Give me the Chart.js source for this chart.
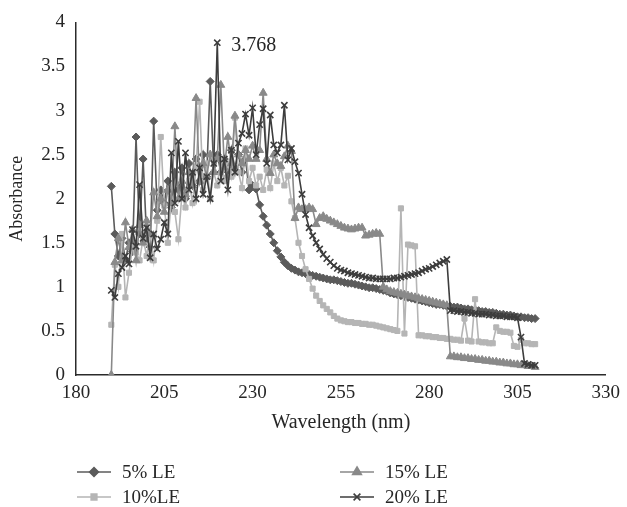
<!DOCTYPE html>
<html>
<head>
<meta charset="utf-8">
<script src="https://cdn.jsdelivr.net/npm/chart.js@4/dist/chart.umd.min.js"></script>
<style>
  html, body { margin: 0; padding: 0; background: #ffffff; }
  canvas { display: block; }
</style>
</head>
<body>
<canvas id="c" width="627" height="507"></canvas>
<script>
// ---- data ----
const wavelengths = [
  190,191,192,193,194,195,196,197,198,199,
  200,201,202,203,204,205,206,207,208,209,
  210,211,212,213,214,215,216,217,218,219,
  220,221,222,223,224,225,226,227,228,229,
  230,231,232,233,234,235,236,237,238,239,
  240,241,242,243,244,245,246,247,248,249,
  250,251,252,253,254,255,256,257,258,259,
  260,261,262,263,264,265,266,267,268,269,
  270,271,272,273,274,275,276,277,278,279,
  280,281,282,283,284,285,286,287,288,289,
  290,291,292,293,294,295,296,297,298,299,
  300,301,302,303,304,305,306,307,308,309,
  310
];

const le5 = [
  2.14,1.60,1.35,1.55,1.30,1.50,1.40,2.70,1.60,2.45,
  1.55,1.45,2.88,1.87,2.10,1.95,2.20,1.90,2.30,2.10,
  2.35,2.00,2.40,2.15,2.45,2.20,2.50,2.25,3.33,2.30,
  2.50,2.30,2.45,2.25,2.55,2.35,2.50,2.30,2.45,2.10,
  2.15,2.11,1.93,1.80,1.70,1.60,1.50,1.41,1.34,1.28,
  1.24,1.21,1.19,1.17,1.16,1.15,1.14,1.13,1.12,1.11,
  1.10,1.09,1.08,1.08,1.07,1.06,1.05,1.04,1.04,1.03,
  1.02,1.01,1.00,0.99,0.99,0.98,0.97,0.96,0.95,0.93,
  0.92,0.91,0.90,0.89,0.88,0.87,0.86,0.85,0.84,0.83,
  0.82,0.81,0.80,0.80,0.79,0.78,0.78,0.77,0.77,0.76,
  0.75,0.75,0.74,0.74,0.73,0.72,0.72,0.71,0.71,0.70,
  0.69,0.69,0.68,0.68,0.67,0.66,0.66,0.65,0.65,0.64,
  0.64
];

const le10 = [
  0.57,1.25,1.00,1.60,0.88,1.16,1.45,1.39,1.30,1.55,
  1.35,1.60,1.30,1.75,2.70,1.92,1.50,2.00,1.85,1.54,
  2.05,1.90,2.20,1.95,2.35,3.10,2.10,2.40,2.00,2.30,
  2.15,2.45,2.20,2.40,2.25,2.92,2.30,2.12,2.57,2.20,
  2.35,2.15,2.25,2.10,2.33,2.12,2.40,2.20,2.35,2.15,
  2.26,1.97,1.78,1.50,1.35,1.20,1.09,0.98,0.90,0.84,
  0.79,0.75,0.71,0.67,0.64,0.62,0.61,0.60,0.60,0.59,
  0.59,0.58,0.58,0.57,0.57,0.56,0.55,0.54,0.53,0.52,
  0.51,0.50,1.89,0.47,1.48,1.47,1.46,0.45,0.45,0.44,
  0.44,0.43,0.43,0.42,0.42,0.41,0.41,0.40,0.40,0.39,
  0.64,0.39,0.38,0.86,0.38,0.37,0.37,0.36,0.36,0.54,
  0.50,0.49,0.49,0.48,0.33,0.32,0.40,0.36,0.36,0.35,
  0.35
];

const le15 = [
  0.00,1.28,1.55,1.30,1.73,1.45,1.65,1.30,1.70,1.50,
  1.75,1.60,2.07,1.80,2.00,1.85,2.10,1.95,2.82,2.00,
  2.20,2.05,2.30,2.15,3.14,2.20,2.40,2.25,2.50,2.30,
  2.45,3.29,2.35,2.70,2.40,2.94,2.50,2.40,2.55,2.45,
  2.60,2.45,2.55,3.20,2.45,2.29,2.50,2.40,2.37,2.48,
  2.60,2.54,1.78,1.90,1.88,1.88,1.90,1.88,1.71,1.78,
  1.80,1.77,1.75,1.73,1.71,1.69,1.67,1.66,1.65,1.66,
  1.67,1.67,1.58,1.59,1.60,1.61,1.60,1.00,0.97,0.95,
  0.94,0.93,0.92,0.91,0.90,0.89,0.88,0.87,0.86,0.85,
  0.84,0.83,0.82,0.81,0.80,0.79,0.21,0.21,0.20,0.20,
  0.19,0.19,0.18,0.18,0.17,0.17,0.16,0.16,0.15,0.15,
  0.14,0.14,0.13,0.13,0.12,0.12,0.11,0.11,0.10,0.10,
  0.09
];

const le20 = [
  0.96,0.88,1.15,1.22,1.35,1.26,1.65,1.46,2.16,1.55,
  1.67,1.33,1.60,1.43,1.54,1.73,1.60,2.52,1.95,2.65,
  2.00,2.52,2.10,2.30,2.00,2.35,2.05,2.25,2.00,2.40,
  3.77,2.20,2.45,2.10,2.55,2.30,2.63,2.74,2.96,2.72,
  3.03,2.50,2.84,3.02,2.40,2.95,2.61,2.52,2.61,3.06,
  2.44,2.57,2.42,2.29,2.05,1.82,1.67,1.58,1.50,1.43,
  1.37,1.32,1.28,1.24,1.21,1.19,1.18,1.16,1.15,1.14,
  1.13,1.12,1.11,1.10,1.10,1.09,1.09,1.09,1.09,1.09,
  1.10,1.10,1.11,1.12,1.13,1.14,1.15,1.16,1.18,1.20,
  1.21,1.23,1.25,1.27,1.29,1.31,0.73,0.73,0.72,0.72,
  0.71,0.71,0.70,0.70,0.69,0.69,0.69,0.68,0.68,0.67,
  0.67,0.67,0.66,0.66,0.66,0.65,0.43,0.13,0.12,0.11,
  0.11
];

const seriesNames = ['5% LE', '10%LE', '15% LE', '20% LE'];
const xTickValues = [180, 205, 230, 255, 280, 305, 330];
const yTickValues = [0, 0.5, 1, 1.5, 2, 2.5, 3, 3.5, 4];
const yTickLabels = ['0', '0.5', '1', '1.5', '2', '2.5', '3', '3.5', '4'];
const peakWavelength = 220;
const peakValue = 3.768;
const peakLabel = '3.768';

// ---- styling ----
const FONT = '"Liberation Serif", "Times New Roman", serif';
const TEXT = '#262626';
const colors = ['#5b5b5b', '#b5b5b5', '#898989', '#3d3d3d'];
const styles = ['rectRot', 'rect', 'triangle', 'crossRot'];
const radii = [4, 3.6, 4.6, 4.4];

function pts(arr) {
  return wavelengths.map((w, i) => ({ x: w, y: arr[i] }));
}

const seriesValues = [le5, le10, le15, le20];
const datasets = seriesValues.map((vals, i) => ({
  label: seriesNames[i],
  data: pts(vals),
  borderColor: colors[i],
  backgroundColor: colors[i],
  pointBackgroundColor: colors[i],
  pointBorderColor: colors[i],
  pointStyle: styles[i],
  pointRadius: radii[i],
  pointBorderWidth: i === 3 ? 1.6 : 1,
  borderWidth: 1.6,
  tension: 0,
  order: 4 - i
}));

const overlay = {
  id: 'overlay',
  afterDraw(chart) {
    const ctx = chart.ctx;
    const xs = chart.scales.x, ys = chart.scales.y;
    ctx.save();
    // peak annotation
    ctx.font = '20px ' + FONT;
    ctx.fillStyle = TEXT;
    ctx.textAlign = 'left';
    ctx.textBaseline = 'middle';
    ctx.fillText(peakLabel, xs.getPixelForValue(peakWavelength) + 14, ys.getPixelForValue(peakValue) + 3);

    // legend (two columns)
    const slots = [
      { i: 0, x: 77, y: 472 },
      { i: 2, x: 340, y: 472 },
      { i: 1, x: 77, y: 497 },
      { i: 3, x: 340, y: 497 }
    ];
    ctx.font = '19px ' + FONT;
    slots.forEach(s => {
      const c = colors[s.i];
      ctx.strokeStyle = c;
      ctx.fillStyle = c;
      ctx.lineWidth = 1.6;
      ctx.beginPath();
      ctx.moveTo(s.x, s.y);
      ctx.lineTo(s.x + 34, s.y);
      ctx.stroke();
      Chart.helpers.drawPoint(ctx, {
        pointStyle: styles[s.i],
        radius: radii[s.i] + 0.4,
        borderWidth: s.i === 3 ? 1.6 : 1,
        rotation: 0
      }, s.x + 17, s.y);
      ctx.fillStyle = TEXT;
      ctx.textAlign = 'left';
      ctx.textBaseline = 'middle';
      ctx.fillText(seriesNames[s.i], s.x + 45, s.y + 1);
    });
    ctx.restore();
  }
};

new Chart(document.getElementById('c'), {
  type: 'line',
  data: { datasets },
  options: {
    responsive: false,
    animation: false,
    devicePixelRatio: 1,
    layout: { padding: { left: 0, right: 17, top: 20, bottom: 0 } },
    plugins: {
      legend: { display: false },
      tooltip: { enabled: false }
    },
    scales: {
      x: {
        type: 'linear',
        min: 180,
        max: 330,
        afterBuildTicks: (s) => { s.ticks = xTickValues.map(v => ({ value: v })); },
        afterFit: (s) => { s.height = 132; },
        grid: { display: false, drawTicks: false },
        border: { display: true, color: '#2b2b2b', width: 1.5 },
        ticks: {
          color: TEXT,
          font: { family: FONT, size: 19 },
          padding: 7,
          maxRotation: 0,
          autoSkip: false,
          callback: (v) => String(v)
        },
        title: {
          display: true,
          text: 'Wavelength (nm)',
          color: TEXT,
          font: { family: FONT, size: 20 },
          padding: { top: 0, bottom: 72 }
        }
      },
      y: {
        min: 0,
        max: 4,
        afterBuildTicks: (s) => { s.ticks = yTickValues.map(v => ({ value: v })); },
        afterFit: (s) => { s.width = 76; },
        grid: { display: false, drawTicks: false },
        border: { display: true, color: '#2b2b2b', width: 1.5 },
        ticks: {
          color: TEXT,
          font: { family: FONT, size: 19 },
          padding: 11,
          autoSkip: false,
          callback: (v) => { const k = yTickValues.indexOf(v); return k >= 0 ? yTickLabels[k] : ''; }
        },
        title: {
          display: true,
          text: 'Absorbance',
          color: TEXT,
          font: { family: FONT, size: 18 },
          padding: { top: 6, bottom: 0 }
        }
      }
    }
  },
  plugins: [overlay]
});
</script>
</body>
</html>
